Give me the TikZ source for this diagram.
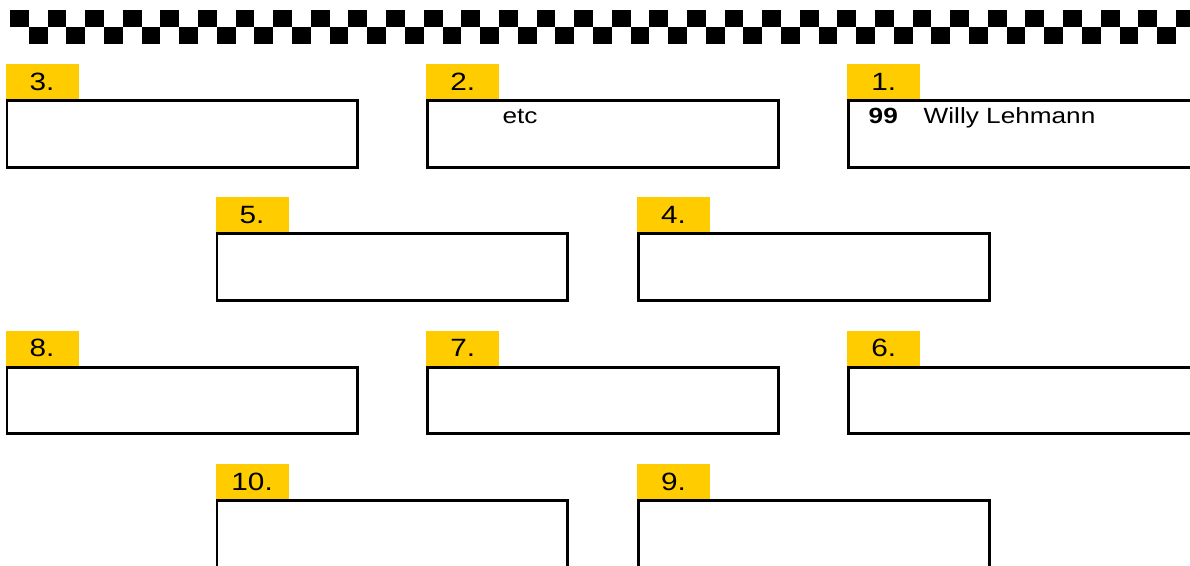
\documentclass[tikz,border=0pt]{standalone}
\usepackage{fontspec}
\setmainfont{Liberation Sans}[FakeStretch=1.19]
\definecolor{labyellow}{HTML}{FFCC00}
\tikzset{
  slot/.style={draw=black, line width=2.8pt, rectangle, inner sep=0pt, outer sep=0pt,
    minimum width=350.8pt, minimum height=66.6pt, anchor=north west},
  tag/.style={fill=labyellow, rectangle, inner sep=0pt, outer sep=0pt,
    minimum width=73pt, minimum height=35pt, anchor=south west,
    font=\fontsize{25}{28}\selectfont, text=black},
  entry/.style={anchor=base west, inner sep=0pt, font=\fontsize{22}{25}\selectfont},
  sq/.style={fill=black}
}
\begin{document}
\begin{tikzpicture}[x=1pt,y=-1pt]
\path[use as bounding box, clip] (0,0) rectangle (1190,565);
% checkered strip
\foreach \k in {0,...,31} {
  \fill[sq] ({10+37.61*\k},10) rectangle ++(18.8,17.3);
}
\foreach \k in {0,...,30} {
  \fill[sq] ({28.8+37.61*\k},27.3) rectangle ++(18.8,17);
}
% boxes
\node[slot] (b1) at (848.7,100.5) {};
\node[slot] (b2) at (427.7,100.5) {};
\node[slot] (b3) at (7,100.5) {};
\node[slot] (b4) at (638.3,233.8) {};
\node[slot] (b5) at (217,233.8) {};
\node[slot] (b6) at (848.7,367.1) {};
\node[slot] (b7) at (427.7,367.1) {};
\node[slot] (b8) at (7,367.1) {};
\node[slot] (b9) at (638.3,500.4) {};
\node[slot] (b10) at (217,500.4) {};
% labels
\node[tag] (l1) at (847.3,99) {1.};
\node[tag] (l2) at (426.3,99) {2.};
\node[tag] (l3) at (5.6,99) {3.};
\node[tag] (l4) at (636.9,232.4) {4.};
\node[tag] (l5) at (215.6,232.4) {5.};
\node[tag] (l6) at (847.3,365.7) {6.};
\node[tag] (l7) at (426.3,365.7) {7.};
\node[tag] (l8) at (5.6,365.7) {8.};
\node[tag] (l9) at (636.9,499) {9.};
\node[tag] (l10) at (215.6,499) {10.};
% entries
\node[entry] (n99) at (868.5,123) {\bfseries 99};
\node[entry] (wl) at (923.5,123) {Willy Lehmann};
\node[entry] (etc) at (502.3,123) {etc};
\end{tikzpicture}
\end{document}
